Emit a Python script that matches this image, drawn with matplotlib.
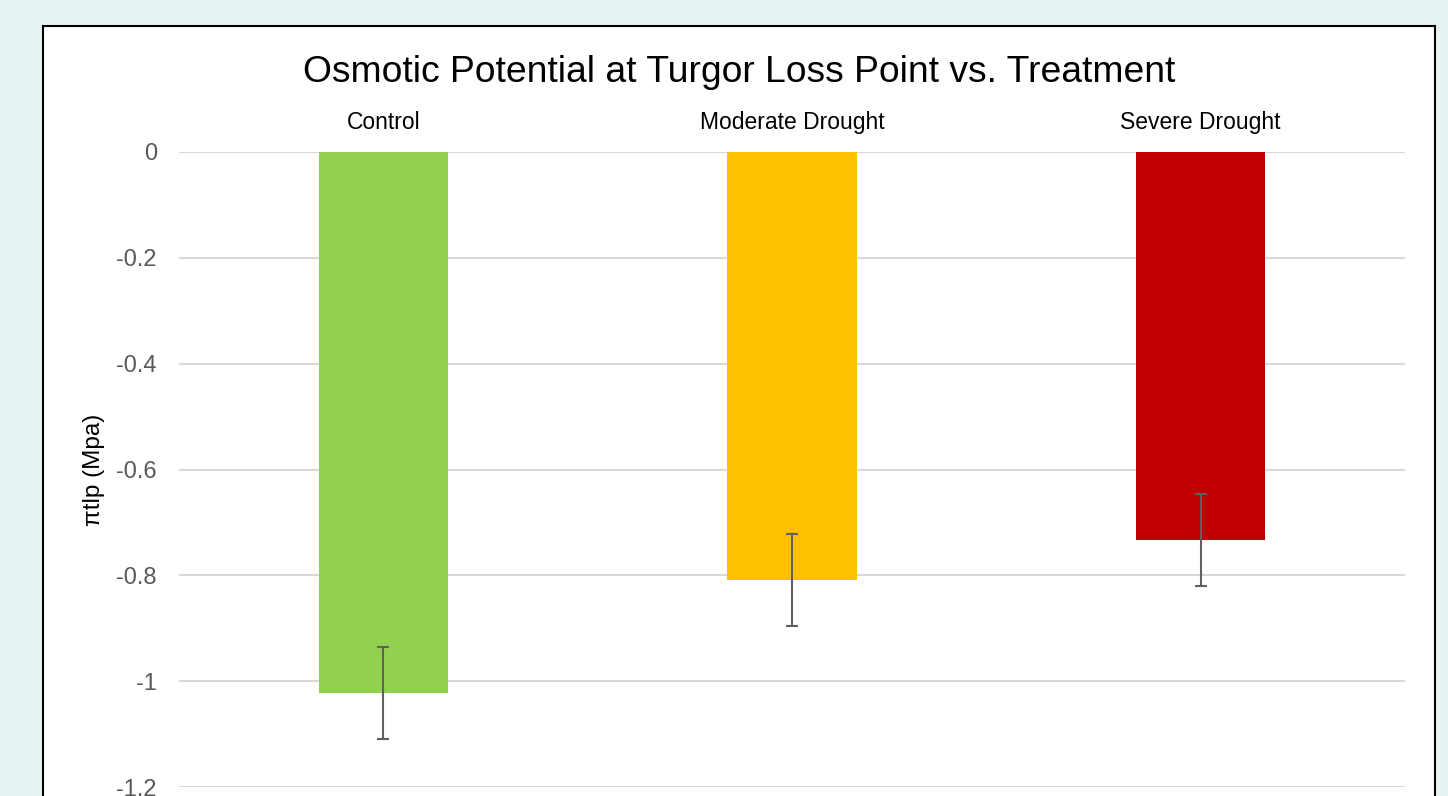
import matplotlib.pyplot as plt
from matplotlib.patches import Rectangle

plt.rcParams['font.family'] = ['Liberation Sans', 'DejaVu Sans']

# data
treatments = ["Control", "Moderate Drought", "Severe Drought"]
ptlp = [-1.022, -0.809, -0.733]
ptlp_err = [0.087, 0.087, 0.087]
bar_colors = ["#92d050", "#ffc000", "#c00000"]
yticks = [0, -0.2, -0.4, -0.6, -0.8, -1, -1.2]

fig = plt.figure(figsize=(14.48, 7.96), dpi=100)
fig.patch.set_facecolor("#e7f2f2")

# white chart box with black frame (bottom runs off the picture)
box = Rectangle((43 / 1448, -0.05), (1435 - 43) / 1448, 1.05 - 26 / 796,
                transform=fig.transFigure, facecolor="white",
                edgecolor="black", linewidth=1.5, zorder=-1)
fig.patches.append(box)

ax = fig.add_axes([179 / 1448, 9 / 796, (1405 - 179) / 1448, (787 - 152) / 796])
ax.set_facecolor("none")
ax.set_zorder(1)

x = list(range(len(treatments)))
ax.bar(x, ptlp, width=0.316, color=bar_colors, zorder=2)
ax.errorbar(x, ptlp, yerr=ptlp_err, fmt="none", ecolor="#606060",
            elinewidth=1.5, capsize=4.3, capthick=1.5, zorder=3)

ax.set_xlim(-0.5, 2.5)
ax.set_ylim(-1.2, 0)
ax.set_yticks(yticks)
ax.set_yticklabels(["0", "-0.2", "-0.4", "-0.6", "-0.8", "-1", "-1.2"])
ax.grid(axis="y", color="#d9d9d9", linewidth=1.5, zorder=0)
ax.set_axisbelow(True)

ax.xaxis.tick_top()
ax.set_xticks(x)
ax.set_xticklabels(treatments)
ax.tick_params(axis="x", length=0, pad=13, labelsize=16.5, labelcolor="black")
ax.tick_params(axis="y", length=0, pad=16, labelsize=17, labelcolor="#595959")

for s in ax.spines.values():
    s.set_visible(False)

ax.set_ylabel("πtlp (Mpa)", fontsize=17.5, labelpad=8)
fig.text(739 / 1448, 1 - 72 / 796, "Osmotic Potential at Turgor Loss Point vs. Treatment",
         ha="center", va="center", fontsize=26.8)

fig.savefig("out.png", dpi=100, facecolor=fig.get_facecolor())
